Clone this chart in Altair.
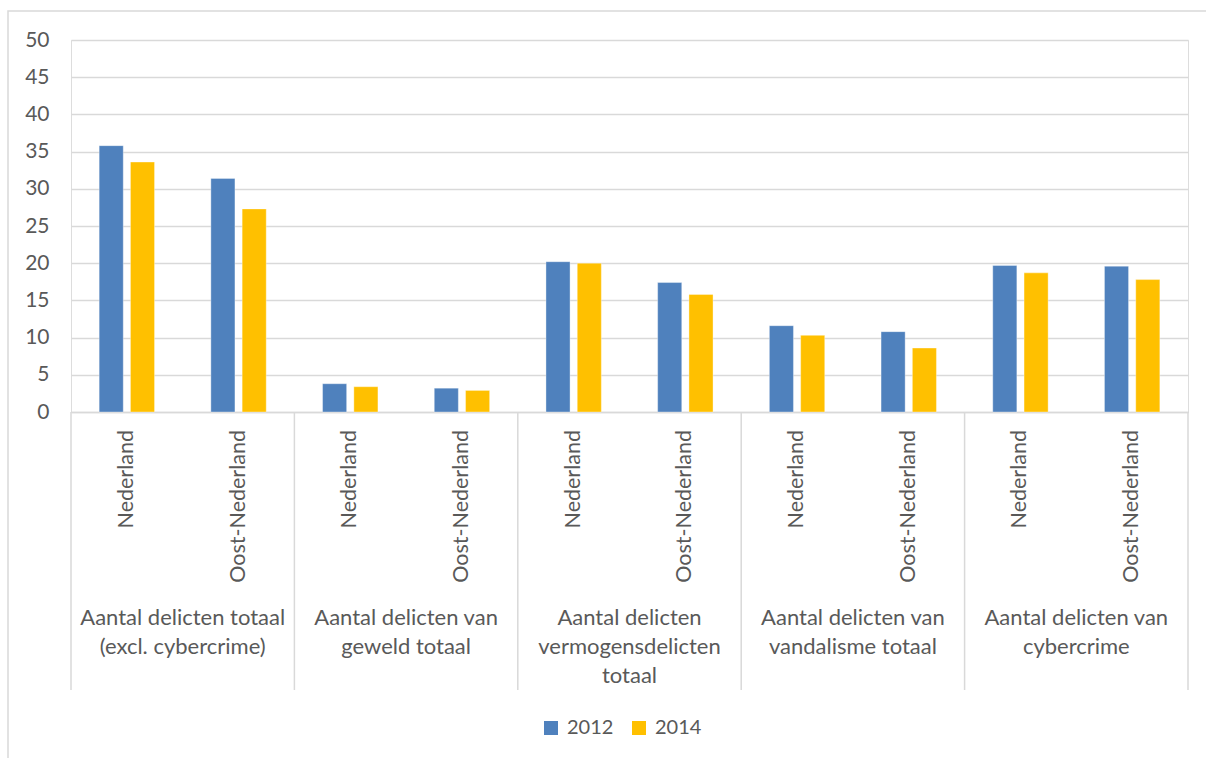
import altair as alt
import pandas as pd

groups = [
    "Aantal delicten totaal\n(excl. cybercrime)",
    "Aantal delicten van\ngeweld totaal",
    "Aantal delicten\nvermogensdelicten\ntotaal",
    "Aantal delicten van\nvandalisme totaal",
    "Aantal delicten van\ncybercrime",
]
regions = ["Nederland", "Oost-Nederland"]
years = ["2012", "2014"]
v2012 = [35.8, 31.4, 3.8, 3.2, 20.2, 17.4, 11.6, 10.8, 19.7, 19.6]
v2014 = [33.6, 27.3, 3.4, 2.9, 20.0, 15.8, 10.3, 8.6, 18.7, 17.8]
colors = ["#4F81BD", "#FFC000"]

FONT = "Lato"
TXT = "#595959"
GRID = "#d9d9d9"

keys = []
cat_rows = []
for gi, g in enumerate(groups):
    for ri, r in enumerate(regions):
        k = f"{gi}-{ri}"
        keys.append(k)
        cat_rows.append({"key": k, "group": g, "region": r, "gi": gi, "ri": ri})
cats = pd.DataFrame(cat_rows)

bar_rows = []
for i, k in enumerate(keys):
    bar_rows.append({"key": k, "year": years[0], "value": v2012[i]})
    bar_rows.append({"key": k, "year": years[1], "value": v2014[i]})
bars_df = pd.DataFrame(bar_rows)

W, H = 1117, 372
xscale = alt.Scale(domain=keys, paddingInner=0, paddingOuter=0)

bars = alt.Chart(bars_df).mark_bar(stroke="white", strokeWidth=0.6, strokeOpacity=0.6).encode(
    x=alt.X("key:N", sort=keys, scale=xscale,
            axis=alt.Axis(title=None, labels=False, ticks=False, domain=True,
                          domainColor=GRID, domainWidth=1.5, grid=False)),
    xOffset=alt.XOffset("year:N", scale=alt.Scale(domain=years, paddingInner=0.23, paddingOuter=0.9)),
    y=alt.Y("value:Q", scale=alt.Scale(domain=[0, 50], nice=False),
            axis=alt.Axis(title=None, values=list(range(0, 51, 5)), grid=True, gridColor=GRID,
                          gridWidth=1.5, domain=False, ticks=False, labelPadding=22,
                          labelFontSize=21, labelColor=TXT, labelFont=FONT)),
    color=alt.Color("year:N", scale=alt.Scale(domain=years, range=colors),
                    legend=alt.Legend(title=None, orient="none", direction="horizontal",
                                      legendX=470, legendY=678, padding=0,
                                      symbolType="square", symbolSize=196, symbolStrokeWidth=0,
                                      labelFontSize=20, labelColor=TXT, labelFont=FONT,
                                      labelOffset=6, columnPadding=15)),
)

# separators between groups
sep_left = cats[cats["ri"] == 0]
seps = alt.Chart(sep_left).mark_rule(color=GRID, strokeWidth=1.5).encode(
    x=alt.X("key:N", sort=keys, scale=xscale, bandPosition=0),
    y=alt.value(H),
    y2=alt.value(650),
)
sep_right = cats[cats["key"] == keys[-1]]
seps_r = alt.Chart(sep_right).mark_rule(color=GRID, strokeWidth=1.5).encode(
    x=alt.X("key:N", sort=keys, scale=xscale, bandPosition=1),
    y=alt.value(H),
    y2=alt.value(650),
)

region_text = alt.Chart(cats).mark_text(
    angle=270, align="right", baseline="middle", fontSize=21.5, font=FONT, color=TXT
).encode(
    x=alt.X("key:N", sort=keys, scale=xscale, bandPosition=0.5),
    y=alt.value(390),
    text="region:N",
)

grp_df = cats[cats["ri"] == 1]
group_text = alt.Chart(grp_df).mark_text(
    align="center", baseline="alphabetic", fontSize=22, font=FONT, color=TXT,
    lineBreak="\n", lineHeight=29
).encode(
    x=alt.X("key:N", sort=keys, scale=xscale, bandPosition=0),
    y=alt.value(585),
    text="group:N",
)

border = alt.Chart(cats.head(1)).mark_rect(fill=None, stroke=GRID, strokeWidth=1.5).encode(
    x=alt.value(-63), x2=alt.value(W + 40), y=alt.value(-29), y2=alt.value(H + 400)
)

chart = alt.layer(border, bars, seps, seps_r, region_text, group_text).properties(
    width=W, height=H,
    autosize=alt.AutoSizeParams(type="none"),
    padding={"left": 71, "top": 40, "right": 18, "bottom": 346},
).configure_view(stroke=None).configure(background="white")

chart.save("out.html", embed_options={"renderer": "svg", "actions": False})
